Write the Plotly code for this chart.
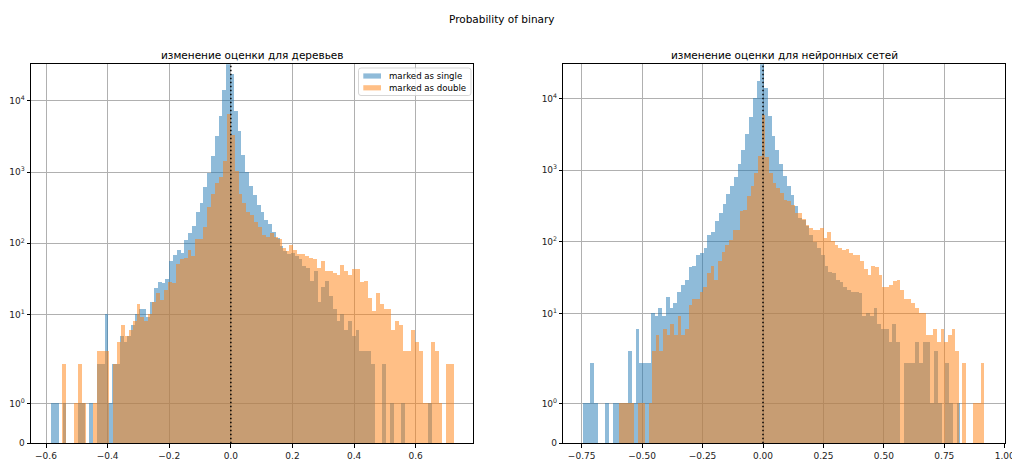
import numpy as np
import plotly.graph_objects as go

# ---------------- data (bin ranges: min, max; 100 bins each) ----------------
trees_single_range = (-0.583, 0.652)
trees_double_range = (-0.548, 0.725)
nn_single_range = (-0.744, 0.818)
nn_double_range = (-0.593, 0.917)

trees_single_counts = [
    1, 1, 0, 1, 0, 0, 0, 1, 1, 0,
    1, 0, 2, 2, 10, 1, 2, 2, 5, 4,
    5, 7, 10, 12, 12, 9, 15, 23, 28, 27,
    31, 56, 67, 80, 73, 109, 137, 174, 274, 363,
    605, 953, 1652, 3162, 6054, 14200, 33000, 23800, 7244, 3794,
    1742, 994, 637, 471, 344, 274, 209, 184, 141, 118,
    90, 78, 70, 73, 66, 59, 47, 45, 29, 40,
    15, 24, 29, 18, 12, 8, 10, 6, 8, 5,
    6, 3, 3, 3, 2, 0, 0, 2, 0, 1,
    0, 0, 1, 0, 0, 0, 0, 0, 0, 1,
]
trees_double_counts = [
    2, 0, 0, 1, 2, 1, 0, 0, 1, 3,
    3, 3, 0, 2, 4, 7, 5, 6, 8, 14,
    9, 8, 10, 15, 20, 16, 22, 28, 27, 50,
    60, 61, 81, 65, 115, 115, 169, 316, 487, 700,
    840, 1430, 6500, 3290, 1035, 487, 360, 270, 250, 200,
    170, 130, 120, 140, 120, 115, 85, 77, 94, 81,
    69, 69, 66, 62, 59, 45, 56, 40, 40, 38,
    36, 49, 40, 36, 43, 43, 28, 29, 17, 11,
    20, 14, 12, 12, 6, 8, 7, 3, 3, 6,
    4, 3, 1, 1, 4, 3, 1, 0, 2, 2,
]
nn_single_counts = [
    1, 1, 2, 1, 0, 0, 1, 0, 1, 1,
    1, 1, 3, 1, 6, 2, 2, 2, 10, 9,
    12, 9, 17, 12, 14, 20, 25, 29, 44, 45,
    65, 70, 80, 125, 135, 191, 250, 337, 464, 588,
    793, 1217, 1867, 3120, 5440, 10000, 17100, 30000, 13800, 5680,
    2925, 1867, 1217, 826, 588, 449, 308, 212, 201, 162,
    125, 97, 81, 65, 45, 37, 36, 29, 27, 23,
    21, 20, 20, 19, 9, 10, 9, 12, 7, 6,
    6, 4, 7, 4, 0, 2, 2, 2, 4, 2,
    4, 4, 1, 3, 1, 0, 2, 1, 0, 1,
]
nn_double_counts = [
    1, 1, 1, 1, 0, 1, 1, 0, 1, 3,
    5, 3, 6, 5, 7, 5, 9, 5, 6, 13,
    16, 16, 20, 23, 36, 46, 29, 53, 71, 90,
    106, 146, 146, 263, 275, 428, 588, 893, 1540, 5860,
    1500, 900, 653, 556, 474, 383, 370, 326, 250, 250,
    206, 171, 154, 146, 146, 154, 112, 136, 100, 90,
    81, 77, 78, 70, 65, 65, 54, 42, 34, 46,
    44, 34, 23, 23, 25, 28, 29, 21, 16, 16,
    14, 12, 10, 10, 5, 5, 6, 4, 6, 4,
    5, 6, 3, 0, 2, 0, 0, 1, 1, 2,
]

series_names = ["marked as single", "marked as double"]
suptitle = "Probability of binary"
titles = ["изменение оценки для деревьев", "изменение оценки для нейронных сетей"]
y_tick_values = [0, 1, 10, 100, 1000, 10000]
y_tick_labels = ["0", "10<sup>0</sup>", "10<sup>1</sup>", "10<sup>2</sup>", "10<sup>3</sup>", "10<sup>4</sup>"]
x1_ticks = [-0.6, -0.4, -0.2, 0.0, 0.2, 0.4, 0.6]
x2_ticks = [-0.75, -0.5, -0.25, 0.0, 0.25, 0.5, 0.75, 1.0]

# ---------------- symlog transform (matplotlib style, linthresh=2) ----------------
LINTHRESH = 2.0
LINSCALE_ADJ = 1.0 / (1.0 - 1.0 / 10.0)


def symlog(v):
    v = np.asarray(v, dtype=float)
    safe = np.maximum(v, 1e-12)
    return np.where(v <= LINTHRESH, v * LINSCALE_ADJ,
                    LINTHRESH * (LINSCALE_ADJ + np.log10(safe / LINTHRESH)))


W, H = 1012, 459
C0 = "#1f77b4"
C1 = "#ff7f0e"
FONT = "DejaVu Sans"


def px(x):
    return x / W


def py(y):
    return (H - y) / H


fig = go.Figure()

panels = [
    (trees_single_counts, trees_single_range, trees_double_counts, trees_double_range, "x", "y"),
    (nn_single_counts, nn_single_range, nn_double_counts, nn_double_range, "x2", "y2"),
]
for s_counts, s_rng, d_counts, d_rng, xa, ya in panels:
    for counts, rng, color, name in [(s_counts, s_rng, C0, series_names[0]),
                                     (d_counts, d_rng, C1, series_names[1])]:
        edges = np.linspace(rng[0], rng[1], len(counts) + 1)
        centers = (edges[:-1] + edges[1:]) / 2
        width = edges[1] - edges[0]
        fig.add_trace(go.Bar(
            x=centers, y=symlog(counts), width=width,
            marker=dict(color=color, opacity=0.5, line=dict(width=0)),
            name=name, showlegend=False,
            xaxis=xa, yaxis=ya, hoverinfo="skip",
        ))

axis_common = dict(
    showgrid=True, gridcolor="#b0b0b0", gridwidth=0.8,
    showline=True, linecolor="black", linewidth=0.8, mirror=True,
    ticks="outside", ticklen=3.5, tickwidth=0.8, tickcolor="black",
    zeroline=False, automargin=False, ticklabeloverflow="allow",
    tickfont=dict(family=FONT, size=9, color="#222222"),
)

ydom = [py(443.3), py(64.3)]
fig.update_layout(
    width=W, height=H,
    margin=dict(l=0, r=0, t=0, b=0),
    paper_bgcolor="white", plot_bgcolor="white",
    barmode="overlay", bargap=0,
    font=dict(family=FONT, size=10, color="black"),
    showlegend=False,
    xaxis=dict(domain=[px(31), px(473.3)], range=[-0.6487, 0.787],
               tickvals=x1_ticks, tickformat=".1f", anchor="y", **axis_common),
    yaxis=dict(domain=ydom, range=[0, 10.65], tickvals=list(symlog(y_tick_values)),
               ticktext=y_tick_labels, anchor="x", **axis_common),
    xaxis2=dict(domain=[px(563.3), px(1005)], range=[-0.826, 1.001],
                tickvals=x2_ticks, tickformat=".2f", anchor="y2", **axis_common),
    yaxis2=dict(domain=ydom, range=[0, 10.57], tickvals=list(symlog(y_tick_values)),
                ticktext=y_tick_labels, anchor="x2", **axis_common),
)

# zero reference lines
for xref, yref in [("x", "y domain"), ("x2", "y2 domain")]:
    fig.add_shape(type="line", xref=xref, yref=yref, x0=0, x1=0, y0=0, y1=1,
                  line=dict(color="black", width=1.5, dash="1.5px,2.5px"))

# ---------------- legend (drawn by hand, matplotlib style) ----------------
bx0, bx1, by0, by1, r = 358.5, 471.0, 68.0, 95.5, 2.5
rx, ry = r / W, r / H
path = (f"M {px(bx0)+rx},{py(by0)} L {px(bx1)-rx},{py(by0)} Q {px(bx1)},{py(by0)} {px(bx1)},{py(by0)-ry} "
        f"L {px(bx1)},{py(by1)+ry} Q {px(bx1)},{py(by1)} {px(bx1)-rx},{py(by1)} "
        f"L {px(bx0)+rx},{py(by1)} Q {px(bx0)},{py(by1)} {px(bx0)},{py(by1)+ry} "
        f"L {px(bx0)},{py(by0)-ry} Q {px(bx0)},{py(by0)} {px(bx0)+rx},{py(by0)} Z")
fig.add_shape(type="path", xref="paper", yref="paper", path=path,
              fillcolor="rgba(255,255,255,0.8)", line=dict(color="rgba(204,204,204,0.8)", width=1),
              layer="above")
for k, (name, color) in enumerate(zip(series_names, [C0, C1])):
    yc = 76.0 + 11.8 * k
    fig.add_shape(type="rect", xref="paper", yref="paper",
                  x0=px(363.3), x1=px(381.0), y0=py(yc - 2.6), y1=py(yc + 2.6),
                  fillcolor=color, opacity=0.5, line=dict(width=0), layer="above")
    fig.add_annotation(text=name, x=px(387.3), y=py(yc), xref="paper", yref="paper",
                       showarrow=False, xanchor="left", yanchor="middle",
                       font=dict(family=FONT, size=8.6, color="black"))

# ---------------- titles ----------------
fig.add_annotation(text=suptitle, x=px(501.5), y=py(19), xref="paper", yref="paper",
                   showarrow=False, xanchor="center", yanchor="middle",
                   font=dict(family=FONT, size=10.5, color="black"))
fig.add_annotation(text=titles[0], x=px((31 + 473.3) / 2), y=py(55),
                   xref="paper", yref="paper", showarrow=False, xanchor="center",
                   yanchor="middle", font=dict(family=FONT, size=10.5, color="black"))
fig.add_annotation(text=titles[1], x=px((563.3 + 1005) / 2), y=py(55),
                   xref="paper", yref="paper", showarrow=False, xanchor="center",
                   yanchor="middle", font=dict(family=FONT, size=10.5, color="black"))

fig.write_html("out.html", config={"displayModeBar": False},
               post_script="document.body.style.margin='0px';document.body.style.overflow='hidden';")
